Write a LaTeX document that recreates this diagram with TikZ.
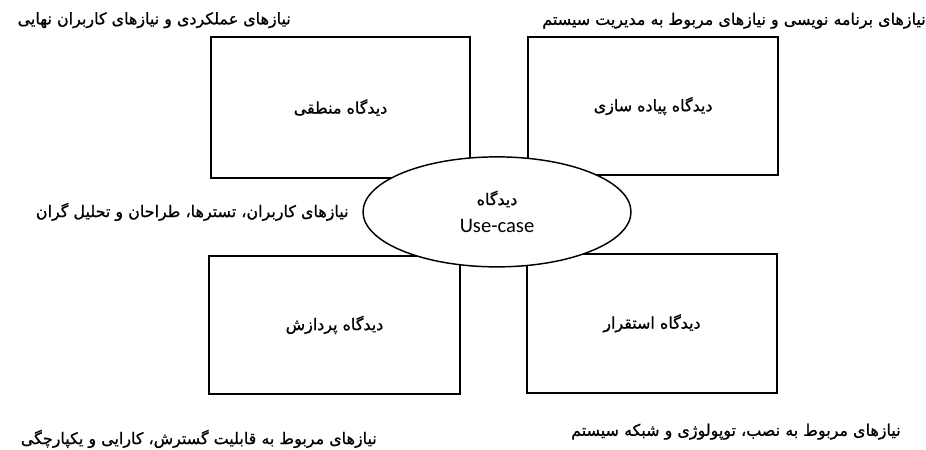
\documentclass[tikz,border=0pt]{standalone}
\usepackage{fontspec}
\usetikzlibrary{positioning,shapes}
\TeXXeTstate=1
\newfontfamily\fafont[Script=Arabic,FakeBold=0.9]{DejaVu Sans}
\newfontfamily\enfont{Carlito}
\newcommand{\fatext}[1]{{\fafont\beginR #1\endR}}

\begin{document}
\begin{tikzpicture}[
		view/.style={draw, line width=1.5pt, minimum width=6.62cm, minimum height=3.66cm, font=\fontsize{12}{14}\selectfont},
		need/.style={font=\fontsize{12}{14}\selectfont}]
		\useasboundingbox (0,0) rectangle (24.5,11.906);
		\node[view, minimum width=6.85cm, minimum height=3.73cm] (logic) at (9.01,9.06) {\fatext{دیدگاه منطقی}};
		\node[view] (impl) at (17.28,9.10) {\fatext{دیدگاه پیاده سازی}};
		\node[view, minimum width=6.64cm] (proc) at (8.85,3.31) {\fatext{دیدگاه پردازش}};
		\node[view] (deploy) at (17.25,3.35) {\fatext{دیدگاه استقرار}};
		
		\node[ellipse, draw, fill=white, line width=1.1pt, minimum width=7.09cm, minimum height=2.91cm, align=center] (uc) at (13.15,6.30) {\fontsize{12}{14}\selectfont\fatext{دیدگاه}\\[9pt]{\enfont\fontsize{15.5}{17}\selectfont Use-case}};
		
		\node[need] (logicreq) at ([xshift=-4.93cm,yshift=0.42cm]logic.north) {\fatext{نیازهای عملکردی و نیازهای کاربران نهایی}};
		\node[need] (implreq) at ([xshift=2.14cm,yshift=0.40cm]impl.north) {\fatext{نیازهای برنامه نویسی و نیازهای مربوط به مدیریت سیستم}};
		\node[need] (ucreq) at ([xshift=-4.50cm]uc.west) {\fatext{نیازهای کاربران، تسترها، طراحان و تحلیل گران}};
		\node[need] (procreq) at ([xshift=-3.59cm,yshift=-1.16cm]proc.south) {\fatext{نیازهای مربوط به قابلیت گسترش، کارایی و یکپارچگی}};
		\node[need] (deployreq) at ([xshift=2.22cm,yshift=-1.01cm]deploy.south) {\fatext{نیازهای مربوط به نصب، توپولوژی  و شبکه سیستم}};
	\end{tikzpicture}
\end{document}
